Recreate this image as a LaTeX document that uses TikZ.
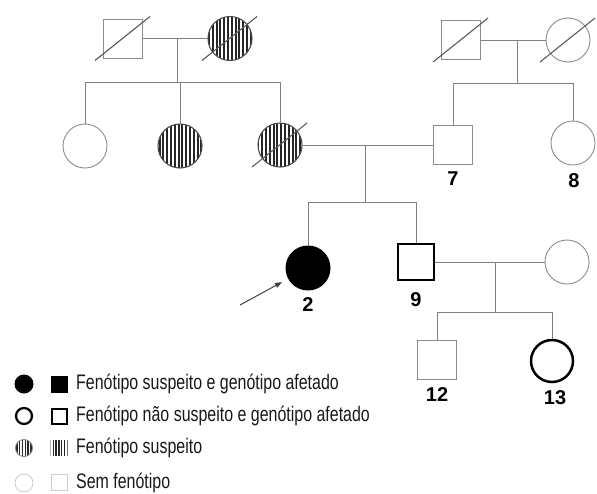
\documentclass[tikz,border=0pt]{standalone}
\usepackage{fontspec}
\setmainfont{Liberation Sans}
\newfontfamily\legendfont[FakeStretch=0.76]{Liberation Sans}
\usetikzlibrary{patterns.meta,arrows.meta}

\definecolor{symgray}{gray}{0.55}
\definecolor{linegray}{gray}{0.5}
\definecolor{slashgray}{gray}{0.35}
\definecolor{palegray}{gray}{0.8}

\tikzset{
  x=1pt, y=-1pt,
  line/.style={draw=linegray, line width=0.9pt},
  male/.style={rectangle, minimum size=39pt, inner sep=0pt, draw=symgray, line width=0.9pt},
  female/.style={circle, minimum size=44pt, inner sep=0pt, draw=symgray, line width=0.9pt},
  suspect/.style={draw=black!70, line width=1.1pt,
    pattern={Lines[angle=90,distance=3.8pt,line width=2.1pt]}, pattern color=black!85},
  affected/.style={fill=black, draw=black, line width=1pt},
  carrier/.style={draw=black, line width=2.5pt},
  slash/.style={draw=slashgray, line width=1.1pt},
  idlabel/.style={font=\bfseries\fontsize{20}{22}\selectfont, inner sep=0pt},
  legtext/.style={font=\legendfont\fontsize{21}{24}\selectfont, anchor=west, inner sep=0pt, text=black!90},
  pointer/.style={draw=black!75, line width=1pt, -{Triangle[length=7pt,width=5pt]}},
}

\begin{document}
\begin{tikzpicture}
\useasboundingbox (0,0) rectangle (597,493);

% ---- Generation I ----
\node[male]            (p1) at (123,38.5) {};
\node[female,suspect]  (p2) at (230,38.5) {};
\node[male]            (p5) at (461,40) {};
\node[female]          (p6) at (568,40) {};

% ---- Generation II ----
\node[female]          (p3a) at (85,146) {};
\node[female,suspect]  (p3b) at (180,146) {};
\node[female,suspect]  (p3)  at (280,145) {};
\node[male]            (p7)  at (453,145) {};
\node[female]          (p8)  at (573,143) {};

% ---- Generation III ----
\node[female,affected,minimum size=44pt] (c2) at (308,268) {};
\node[male,carrier,minimum size=36pt]    (c9) at (416,262) {};
\node[female]                            (w)  at (567,262) {};

% ---- Generation IV ----
\node[male]                              (c12) at (437,360) {};
\node[female,carrier,minimum size=42pt]  (c13) at (552,361) {};

% ---- deceased marks ----
\foreach \n in {p1,p2,p5,p6,p3}{
  \draw[slash] ([shift={(-28,22)}]\n.center) -- ([shift={(27,-22)}]\n.center);
}

% ---- identification numbers ----
\node[idlabel] (l2)  at (308,305) {2};
\node[idlabel] (l9)  at (416,300) {9};
\node[idlabel] (l7)  at (453,179) {7};
\node[idlabel] (l8)  at (574,181) {8};
\node[idlabel] (l12) at (437,395) {12};
\node[idlabel] (l13) at (555,398) {13};

% ---- mating and sibship lines ----
\coordinate (m1) at (177,38.5);
\coordinate (s1) at (177,82);
\draw[line] (p1.east) -- (p2.west);
\draw[line] (m1) -- (s1);
\draw[line] (p3a.north) -- (p3a.north |- s1) -- (p3.north |- s1) -- (p3.north);
\draw[line] (p3b.north) -- (p3b.north |- s1);

\coordinate (m2) at (517,40);
\coordinate (s2) at (517,83);
\draw[line] (p5.east) -- (p6.west);
\draw[line] (m2) -- (s2);
\draw[line] (p7.north) -- (p7.north |- s2) -- (p8.north |- s2) -- (p8.north);

\coordinate (m3) at (365,145);
\coordinate (s3) at (365,202);
\draw[line] (p3.east) -- (p7.west);
\draw[line] (m3) -- (s3);
\draw[line] (c2.north) -- (c2.north |- s3) -- (c9.north |- s3) -- (c9.north);

\coordinate (m4) at (495,262);
\coordinate (s4) at (495,312);
\draw[line] (c9.east) -- (w.west);
\draw[line] (m4) -- (s4);
\draw[line] (c12.north) -- (c12.north |- s4) -- (c13.north |- s4) -- (c13.north);

% ---- proband arrow ----
\coordinate (arr) at (240,305);
\draw[pointer, shorten >=7pt] (arr) -- (c2);

% ---- legend ----
\node[circle, minimum size=19pt, inner sep=0pt, fill=black] (lc1) at (24,384) {};
\node[rectangle, minimum size=17pt, inner sep=0pt, fill=black] (ls1) at (59,384) {};
\node[legtext] (lt1) at (76,384) {Fenótipo suspeito e genótipo afetado};

\node[circle, minimum size=16pt, inner sep=0pt, draw=black, line width=2.2pt] (lc2) at (24,416) {};
\node[rectangle, minimum size=15pt, inner sep=0pt, draw=black, line width=2pt] (ls2) at (59,416) {};
\node[legtext] (lt2) at (76,416) {Fenótipo não suspeito e genótipo afetado};

\node[circle, minimum size=17pt, inner sep=0pt, draw=black!50, line width=0.8pt,
      pattern={Lines[angle=90,distance=2.8pt,line width=1.4pt]}, pattern color=black!85] (lc3) at (24,448) {};
\node[rectangle, minimum width=17pt, minimum height=15pt, inner sep=0pt,
      pattern={Lines[angle=90,distance=2.8pt,line width=1.4pt]}, pattern color=black!85] (ls3) at (59,448) {};
\node[legtext] (lt3) at (76,448) {Fenótipo suspeito};

\node[circle, minimum size=18pt, inner sep=0pt, draw=palegray, line width=0.8pt] (lc4) at (24,483) {};
\node[rectangle, minimum size=16pt, inner sep=0pt, draw=palegray, line width=0.8pt] (ls4) at (59,482) {};
\node[legtext] (lt4) at (76,483) {Sem fenótipo};
\end{tikzpicture}
\end{document}
